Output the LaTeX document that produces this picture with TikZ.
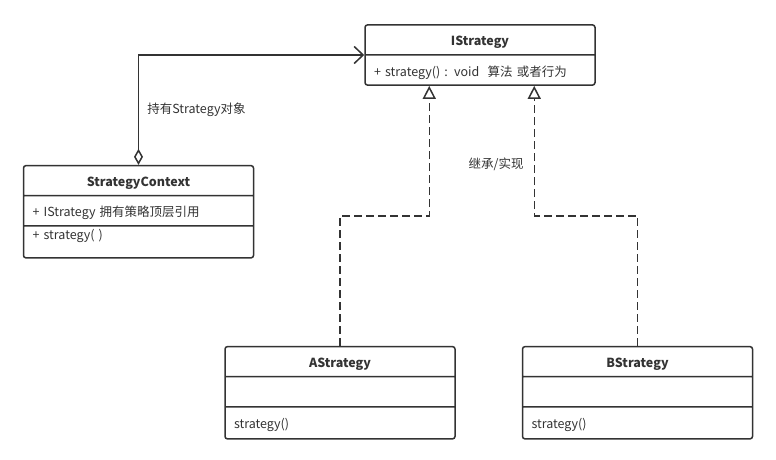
\documentclass[tikz,border=0pt]{standalone}
\usepackage{fontspec}
\setmainfont{Noto Sans CJK SC}
\usetikzlibrary{positioning,shapes.multipart,arrows.meta,calc}
\definecolor{ink}{HTML}{333333}
% row of a class box: total height, depth below baseline
\newcommand{\cell}[2]{\rule[-#2pt]{0pt}{#1pt}}
% centred bold class name
\newcommand{\ctitle}[1]{\hspace*{\fill}\bfseries\cell{28.6}{8.6}#1\hspace*{\fill}}

\begin{document}
\begin{tikzpicture}[x=1pt,y=1pt,
    umlclass/.style = {draw=ink, line width=1.5pt, rounded corners=2.5pt,
      rectangle split, rectangle split parts=#1, text width=212pt,
      inner xsep=9pt, inner ysep=0pt, align=left, text=ink,
      font=\fontsize{12.5}{14}\selectfont},
    umlclass/.default = 3,
    lbl/.style = {text=ink, inner sep=0pt, font=\fontsize{12.5}{14}\selectfont},
    assoc/.style = {draw=ink, line width=1.5pt,
      {Diamond[open,length=16pt,width=9pt]}-{Straight Barb[length=9pt,width=17pt]}},
    realize/.style = {draw=ink, line width=1.5pt, dash pattern=on 8pt off 4pt,
      -{Triangle[open,length=13pt,width=13pt]}}]
        \useasboundingbox (0,0) rectangle (776,-460);

        \node[umlclass=2] (istr) at (480,-55)
          {\ctitle{IStrategy}
           \nodepart{two}\cell{28.6}{8}+ strategy() : void\ \ 算法 或者行为};
        \node[umlclass, below left=79pt and 110pt of istr] (ctx)
          {\ctitle{StrategyContext}
           \nodepart{two}\cell{28.6}{9}+ IStrategy 拥有策略顶层引用
           \nodepart{three}\cell{30.6}{17.5}+ strategy( )};
        \node[umlclass, below=260pt of istr, xshift=-140pt] (astr)
          {\ctitle{AStrategy}
           \nodepart{two}\cell{28.6}{9}
           \nodepart{three}\cell{30.6}{10}strategy()};
        \node[umlclass, right=66pt of astr] (bstr)
          {\ctitle{BStrategy}
           \nodepart{two}\cell{28.6}{9}
           \nodepart{three}\cell{30.6}{10}strategy()};

        \coordinate (ja) at ($(istr.south west)+(65,0)$);
        \coordinate (jb) at ($(istr.south west)+(170,0)$);

        \draw[assoc] (ctx.north) |- node[lbl, pos=.25, right=8pt]{持有Strategy对象} (istr.west);
        \draw[realize] (astr.north) |- ($(astr.north)!.5!(ja)$) -| (ja);
        \draw[realize] (bstr.north) |- ($(bstr.north)!.5!(jb)$)
          -| node[lbl, pos=.7, left=10pt]{继承/实现} (jb);
      \end{tikzpicture}
\end{document}
